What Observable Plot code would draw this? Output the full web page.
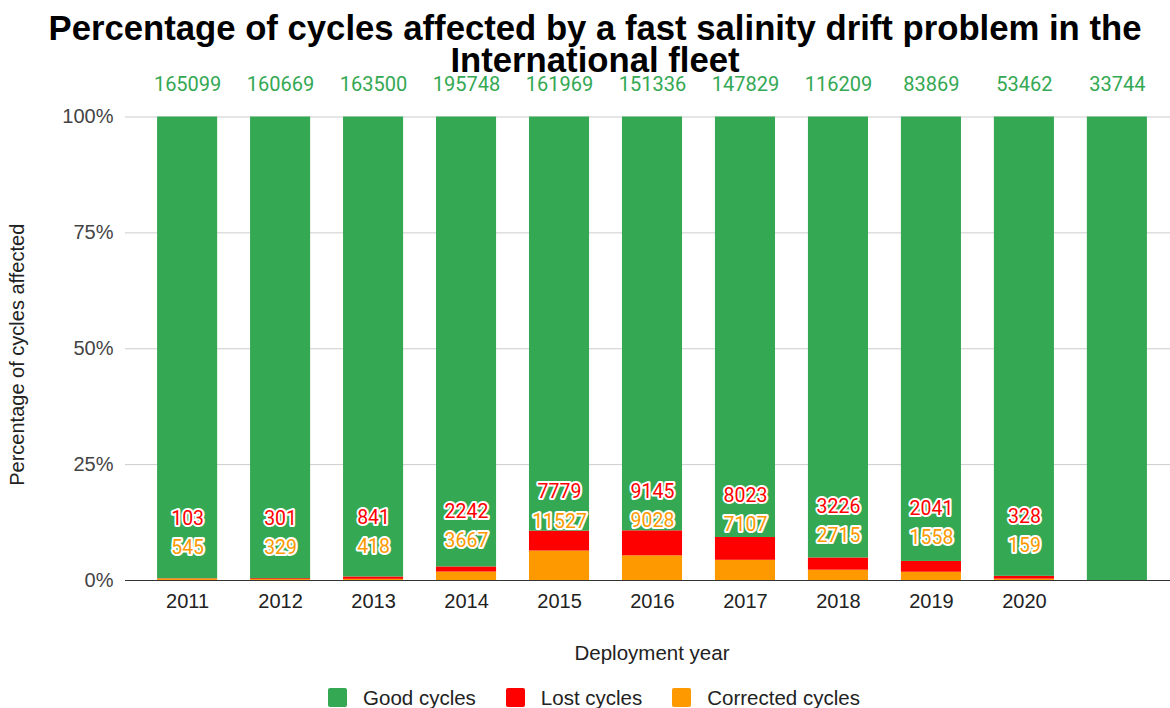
<!DOCTYPE html>
<html>
<head>
<meta charset="utf-8">
<script src="https://cdn.jsdelivr.net/npm/d3@7"></script>
<script src="https://cdn.jsdelivr.net/npm/@observablehq/plot@0.6"></script>
<style>
  html, body { margin: 0; padding: 0; background: #fff; }
  #wrap { position: relative; width: 1170px; height: 708px; overflow: hidden; background: #fff; }
  #chart { position: absolute; left: 0; top: 0; }
  #title { position: absolute; left: 10px; top: 12px; width: 1170px; text-align: center;
           font-family: "Liberation Sans", Arial, sans-serif; font-weight: bold; font-size: 34.7px;
           line-height: 32px; color: #000; z-index: 2; }
  #legend { position: absolute; left: 0; top: 688px; width: 1188px; height: 19px; display: flex; justify-content: center;
            align-items: center; font-family: "Liberation Sans", Arial, sans-serif; font-size: 20.5px; color: #222; z-index: 2; }
  .item { display: flex; align-items: center; margin: 0 15px; }
  .sw { width: 19px; height: 19px; border-radius: 2px; margin-right: 16px; }
</style>
</head>
<body>
<div id="wrap">
  <div id="chart"></div>
  <div id="title">Percentage of cycles affected by a fast salinity drift problem in the<br>International fleet</div>
  <div id="legend"></div>
</div>
<script>
const years = ["2011","2012","2013","2014","2015","2016","2017","2018","2019","2020","2021"];
const tickLabels = ["2011","2012","2013","2014","2015","2016","2017","2018","2019","2020",""];
const goodCycles = [165099,160669,163500,195748,161969,151336,147829,116209,83869,53462,33744];
const lostCycles = [103,301,841,2242,7779,9145,8023,3226,2041,328,0];
const correctedCycles = [545,329,418,3667,11527,9028,7107,2715,1558,159,0];
const seriesNames = ["Good cycles","Lost cycles","Corrected cycles"];
const seriesColors = ["#34a853","#ff0000","#ff9900"];

const rows = years.flatMap((y, i) => [
  {year: y, series: "Corrected cycles", value: correctedCycles[i]},
  {year: y, series: "Lost cycles", value: lostCycles[i]},
  {year: y, series: "Good cycles", value: goodCycles[i]}
]);

// label placement (collision-avoiding stack above the small segments)
const labelRows = years.map((y, i) => {
  const total = goodCycles[i] + lostCycles[i] + correctedCycles[i];
  const affected = (lostCycles[i] + correctedCycles[i]) / total;
  const yCorr = 0.069 + 0.55 * affected;
  return {year: y, lost: lostCycles[i], corr: correctedCycles[i], yCorr, yLost: yCorr + 0.063};
}).filter(d => d.lost > 0 || d.corr > 0);

const goodRows = years.map((y, i) => ({year: y, good: goodCycles[i]}));

const chart = Plot.plot({
  width: 1170,
  height: 708,
  marginTop: 116.5,
  marginBottom: 128,
  marginLeft: 125,
  marginRight: 0,
  style: {fontFamily: "'Liberation Sans', Arial, sans-serif", fontSize: "20px", color: "#333", background: "transparent"},
  x: {domain: years, range: [125, 1179], paddingInner: 0.354, paddingOuter: 0.345, align: 0.5, round: false},
  y: {domain: [0, 1]},
  color: {domain: seriesNames, range: seriesColors},
  marks: [
    Plot.gridY({ticks: [0.25, 0.5, 0.75, 1], stroke: "#cccccc", strokeOpacity: 1}),
    Plot.barY(rows, {x: "year", y: "value", fill: "series", offset: "normalize", order: null}),
    Plot.ruleY([0], {stroke: "#333", strokeWidth: 1.2}),
    Plot.axisY({ticks: [0, 0.25, 0.5, 0.75, 1], tickFormat: d3.format(".0%"), tickSize: 0, tickPadding: 12, label: null, fill: "#444", fontSize: 20}),
    Plot.axisX({tickSize: 0, tickPadding: 13, tickFormat: d => tickLabels[years.indexOf(d)], label: null, fill: "#222", fontSize: 20}),
    Plot.text(goodRows, {x: "year", y: () => 1, text: d => String(d.good), dy: -32, fill: "#34a853", fontSize: 20, fontFamily: "Roboto, sans-serif"}),
    Plot.text(labelRows, {x: "year", y: "yCorr", text: d => String(d.corr), fill: "#ff9900", stroke: "white", strokeWidth: 4, fontSize: 19.5, fontFamily: "Roboto, sans-serif"}),
    Plot.text(labelRows, {x: "year", y: "yLost", text: d => String(d.lost), fill: "#ff0000", stroke: "white", strokeWidth: 4, fontSize: 19.5, fontFamily: "Roboto, sans-serif"}),
    Plot.text(["Percentage of cycles affected"], {frameAnchor: "left", rotate: -90, dx: -108, dy: 6, textAnchor: "middle", lineAnchor: "middle", fontSize: 20, fill: "#222"}),
    Plot.text(["Deployment year"], {frameAnchor: "bottom", dx: 4, dy: 73, lineAnchor: "middle", fontSize: 20.5, fill: "#222"})
  ]
});
document.getElementById("chart").appendChild(chart);

const legend = document.getElementById("legend");
seriesNames.forEach((name, i) => {
  const item = document.createElement("div");
  item.className = "item";
  const sw = document.createElement("div");
  sw.className = "sw";
  sw.style.background = seriesColors[i];
  const label = document.createElement("span");
  label.textContent = name;
  item.appendChild(sw);
  item.appendChild(label);
  legend.appendChild(item);
});
</script>
</body>
</html>
